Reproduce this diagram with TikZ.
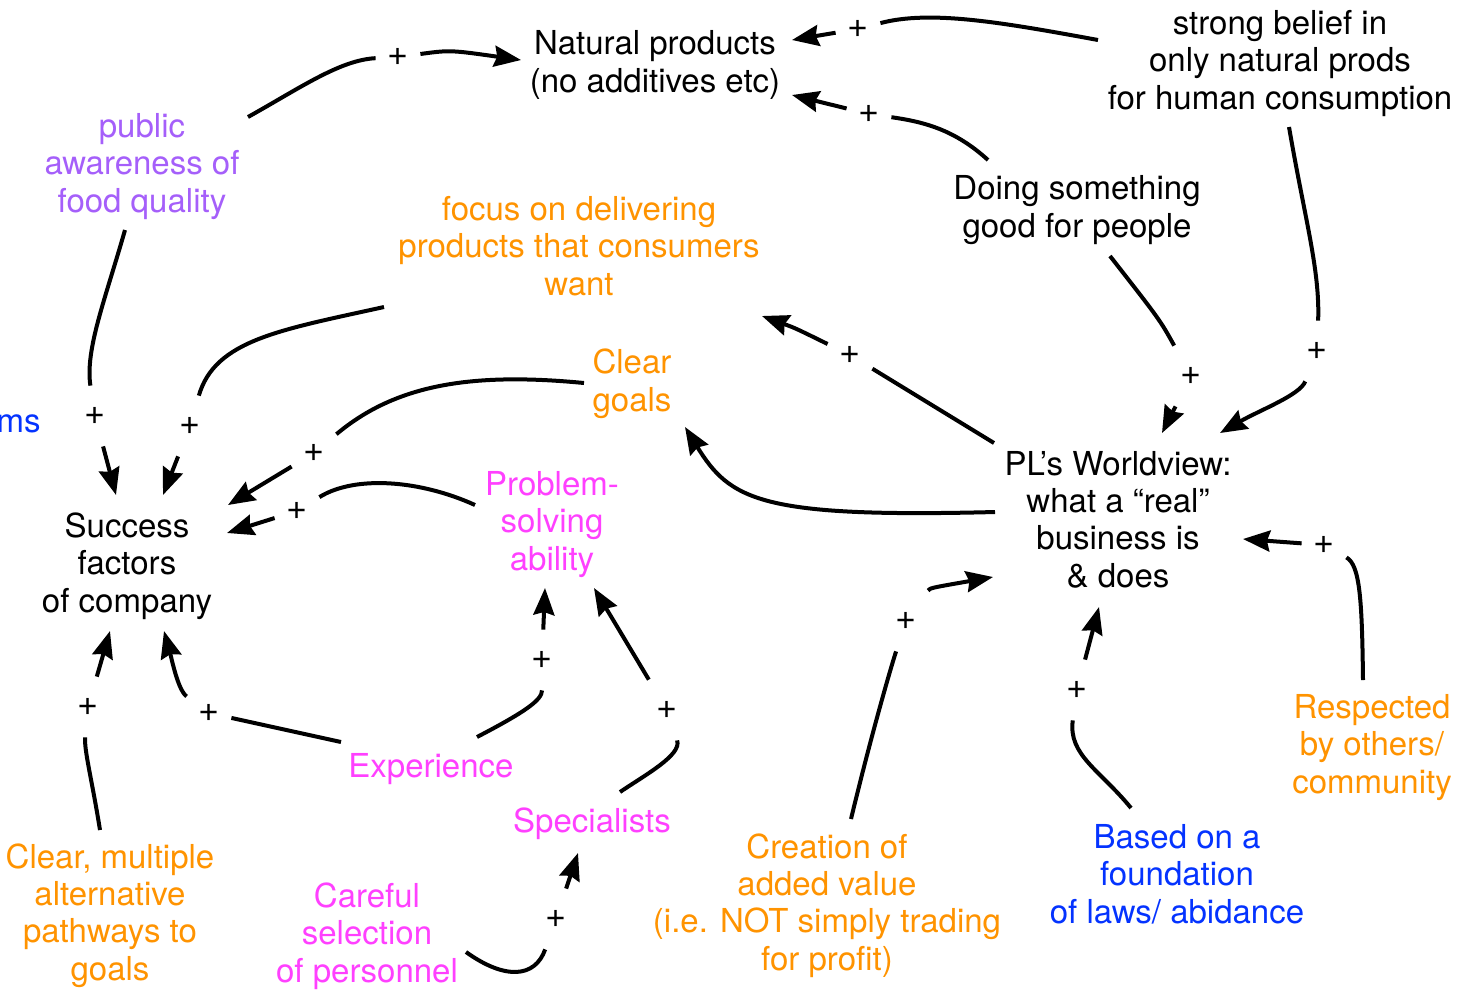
\documentclass[tikz,border=0pt]{standalone}
\usepackage{fontspec}
\setmainfont{TeX Gyre Heros}
\usetikzlibrary{arrows.meta}
\definecolor{cpurple}{RGB}{165,95,250}
\definecolor{corange}{RGB}{255,147,0}
\definecolor{cmagenta}{RGB}{255,64,255}
\definecolor{cblue}{RGB}{4,51,255}
\begin{document}
\begin{tikzpicture}[x=0.5pt,y=-0.5pt,
  lbl/.style={font=\fontsize{16.5}{18.6}\selectfont, align=center, anchor=base, inner sep=0pt},
  plus/.style={font=\fontsize{18}{20}\selectfont, rectangle, inner sep=0pt, minimum width=22pt, minimum height=30pt},
  conn/.style={line width=2pt, -{Stealth[length=13.5pt,width=10.5pt,inset=1.5pt]}}]
\useasboundingbox (0,0) rectangle (1471,992);
% text nodes (anchor = baseline of the last line)
\node[lbl] (nat) at (655,92) {Natural products\\(no additives etc)};
\node[lbl] (belief) at (1280,109) {strong belief in\\only natural prods\\for human consumption};
\node[lbl,text=cpurple] (pub) at (142,212) {public\\awareness of\\food quality};
\node[lbl,text=corange] (focus) at (579,295) {focus on delivering\\products that consumers\\want};
\node[lbl] (doing) at (1077,237) {Doing something\\good for people};
\node[lbl,text=corange] (goals) at (632,411) {Clear\\goals};
\node[lbl,text=cblue,anchor=base east] (ms) at (41,432) {ms};
\node[lbl] (succ) at (127,612) {Success\\factors\\of company};
\node[lbl,text=cmagenta] (prob) at (552,570) {Problem-\\solving\\ability};
\node[lbl] (pl) at (1118,587) {PL’s Worldview:\\what a “real”\\business is\\\& does};
\node[lbl,text=cmagenta] (exp) at (431,777) {Experience};
\node[lbl,text=cmagenta] (spec) at (592,832) {Specialists};
\node[lbl,text=corange] (multi) at (110,980) {Clear, multiple\\alternative\\pathways to\\goals};
\node[lbl,text=cmagenta] (careful) at (367,982) {Careful\\selection\\of personnel};
\node[lbl,text=corange] (creat) at (827,970) {Creation of\\added value\\(i.e. NOT simply trading\\for profit)};
\node[lbl,text=cblue] (based) at (1177,923) {Based on a\\foundation\\of laws/ abidance};
\node[lbl,text=corange] (resp) at (1372,793) {Respected\\by others/\\community};
% plus labels
\node[plus] (p1) at (398,57) {+};
\node[plus] (p2) at (858,29) {+};
\node[plus] (p3) at (869,114) {+};
\node[plus] (p4) at (1317,351) {+};
\node[plus] (p5) at (1191,376) {+};
\node[plus] (p6) at (850,355) {+};
\node[plus] (p8) at (190,426) {+};
\node[plus] (p9) at (95,416) {+};
\node[plus] (p10) at (314,453) {+};
\node[plus] (p11) at (297,511) {+};
\node[plus] (p12) at (209,713) {+};
\node[plus] (p13) at (88,707) {+};
\node[plus] (p14) at (542,660) {+};
\node[plus] (p15) at (667,710) {+};
\node[plus] (p16) at (556,919) {+};
\node[plus] (p17) at (906,621) {+};
\node[plus] (p18) at (1077,690) {+};
\node[plus] (p19) at (1324,545) {+};
% connector ends
\coordinate (s1) at (248,117);  \coordinate (t1) at (521,60);
\coordinate (s2) at (1098,40);  \coordinate (t2) at (792,40);
\coordinate (s3) at (988,160);  \coordinate (t3) at (792,95);
\coordinate (s4) at (1289,127); \coordinate (t4) at (1220,433);
\coordinate (s5) at (1110,256); \coordinate (t5) at (1162,433);
\coordinate (s6) at (994,443);  \coordinate (t6) at (762,316);
\coordinate (s7) at (995,512);  \coordinate (t7) at (685,427);
\coordinate (s8) at (384,307);  \coordinate (t8) at (163,495);
\coordinate (s9) at (125,230);  \coordinate (t9) at (116,495);
\coordinate (s10) at (584,383); \coordinate (t10) at (228,505);
\coordinate (s11) at (475,505); \coordinate (t11) at (227,533);
\coordinate (s12) at (341,742); \coordinate (t12) at (164,631);
\coordinate (s13) at (100,830); \coordinate (t13) at (110,631);
\coordinate (s14) at (477,737); \coordinate (t14) at (545,588);
\coordinate (s15) at (620,792); \coordinate (t15) at (594,588);
\coordinate (s16) at (466,952); \coordinate (t16) at (578,853);
\coordinate (s17) at (851,819); \coordinate (t17) at (993,577);
\coordinate (s18) at (1131,808); \coordinate (t18) at (1099,607);
\coordinate (s19) at (1363,680); \coordinate (t19) at (1243,539);
% connectors
\draw[conn] (s1) .. controls (300,88) and (340,60) .. (p1) .. controls (450,50) .. (t1);
\draw[conn] (s2) .. controls (1000,22) and (930,10) .. (p2) -- (t2);
\draw[conn] (s3) .. controls (955,130) and (925,122) .. (p3) -- (t3);
\draw[conn] (s4) .. controls (1305,220) and (1320,270) .. (p4) .. controls (1300,395) and (1260,410) .. (t4);
\draw[conn] (s5) .. controls (1160,320) .. (p5) -- (t5);
\draw[conn] (s6) -- (p6) .. controls (795,328) .. (t6);
\draw[conn] (s7) .. controls (760,518) and (730,500) .. (t7);
\draw[conn] (s8) .. controls (280,330) and (215,340) .. (p8) -- (t8);
\draw[conn] (s9) .. controls (105,300) and (85,350) .. (p9) -- (t9);
\draw[conn] (s10) .. controls (470,372) and (395,385) .. (p10) -- (t10);
\draw[conn] (s11) .. controls (420,480) and (355,475) .. (p11) -- (t11);
\draw[conn] (s12) -- (p12) .. controls (178,690) and (172,660) .. (t12);
\draw[conn] (s13) .. controls (92,780) and (84,750) .. (p13) -- (t13);
\draw[conn] (s14) .. controls (525,712) and (542,700) .. (p14) -- (t14);
\draw[conn] (s15) .. controls (645,775) and (682,755) .. (p15) -- (t15);
\draw[conn] (s16) .. controls (505,980) and (535,978) .. (p16) -- (t16);
\draw[conn] (s17) .. controls (870,740) and (890,670) .. (p17) .. controls (930,588) .. (t17);
\draw[conn] (s18) .. controls (1100,770) and (1068,755) .. (p18) -- (t18);
\draw[conn] (s19) .. controls (1362,600) and (1360,565) .. (p19) -- (t19);
\end{tikzpicture}
\end{document}
